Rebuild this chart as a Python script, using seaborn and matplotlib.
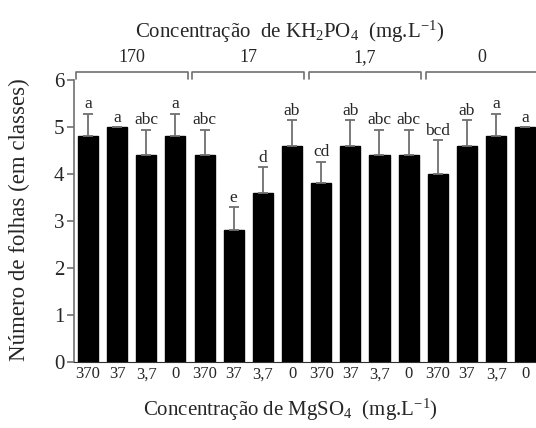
import numpy as np
import pandas as pd
import seaborn as sns
import matplotlib.pyplot as plt

# KH2PO4 groups and MgSO4 levels within each group
kh2po4_levels = ["170", "17", "1,7", "0"]
mgso4_levels = ["370", "37", "3,7", "0"]

# leaf number (classes)
folhas = [4.8, 5.0, 4.4, 4.8,
          4.4, 2.8, 3.6, 4.6,
          3.8, 4.6, 4.4, 4.4,
          4.0, 4.6, 4.8, 5.0]
erro = [0.48, 0.0, 0.54, 0.48,
        0.54, 0.50, 0.55, 0.54,
        0.46, 0.54, 0.54, 0.54,
        0.72, 0.54, 0.48, 0.0]
letras = ["a", "a", "abc", "a",
          "abc", "e", "d", "ab",
          "cd", "ab", "abc", "abc",
          "bcd", "ab", "a", "a"]

sns.set_style("ticks")
plt.rcParams['font.family'] = ['Liberation Serif', 'DejaVu Serif']
plt.rcParams['mathtext.fontset'] = 'custom'
plt.rcParams['mathtext.rm'] = 'Liberation Serif'

df = pd.DataFrame({
    "pos": [str(i) for i in range(len(folhas))],
    "folhas": folhas,
})

fig = plt.figure(figsize=(5.36, 4.28), dpi=100)
ax = fig.add_axes([0.138, 0.154, 0.862, 0.659])

sns.barplot(data=df, x="pos", y="folhas", color="black", saturation=1,
            width=0.69, errorbar=None, ax=ax)
for p in ax.patches:
    p.set_edgecolor("black")

x = np.arange(len(folhas))
ax.errorbar(x, folhas, yerr=[np.zeros(len(erro)), erro], fmt="none",
            ecolor="#707070", elinewidth=1.3, capsize=3.5, capthick=1.3)

for xi, v, e, t in zip(x, folhas, erro, letras):
    ax.annotate(t, (xi, v + e), xytext=(0, 1), textcoords="offset points",
                ha="center", va="bottom", fontsize=12.5)

ax.set_xlim(-0.48, 15.37)
ax.set_ylim(0, 6)
ax.set_yticks(range(7))
ax.tick_params(axis="y", labelsize=15, length=5, color="#707070", width=1.2, pad=2)
ax.tick_params(axis="x", length=0, labelsize=12, pad=3)
ax.set_xticks(x)
ax.set_xticklabels(mgso4_levels * 4)
ax.set_xlabel("")
ax.set_ylabel("")
sns.despine(ax=ax)
ax.spines["left"].set_color("#707070")
ax.spines["left"].set_linewidth(1.2)
ax.spines["bottom"].set_color("#303030")

# group brackets
for g, lab in enumerate(kh2po4_levels):
    x0 = g * 4 - 0.42
    x1 = g * 4 + 3 + 0.42
    ax.plot([x0, x0, x1, x1], [6.03, 6.17, 6.17, 6.03], color="#707070",
            lw=1.2, clip_on=False)
    ax.text(g * 4 + 1.5, 6.3, lab, ha="center", va="bottom", fontsize=13)

fig.text(0.541, 0.925, r"Concentração  de $\mathregular{KH_2PO_4}$  (mg.$\mathregular{L^{-1}}$)",
         ha="center", va="center", fontsize=15)
fig.text(0.541, 0.042, r"Concentração de $\mathregular{MgSO_4}$  (mg.$\mathregular{L^{-1}}$)",
         ha="center", va="center", fontsize=15)
fig.text(0.037, 0.486, "Número de folhas (em classes)", rotation=90,
         ha="center", va="center", fontsize=16.5)

fig.savefig("out.png", dpi=100)
